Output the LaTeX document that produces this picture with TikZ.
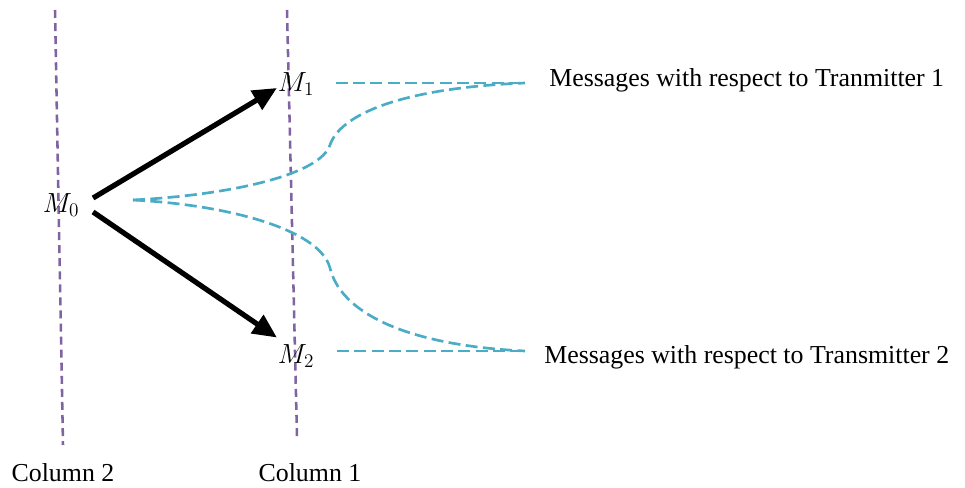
\documentclass[tikz,border=0pt]{standalone}
\usepackage{fontspec}
\setmainfont{Liberation Serif}
\usetikzlibrary{positioning, arrows.meta, calc}

\definecolor{colpurple}{RGB}{128,100,162}
\definecolor{msgcyan}{RGB}{75,172,198}

\begin{document}
\begin{tikzpicture}[
	x=0.75pt, y=-0.75pt,
	every node/.style={font=\fontsize{19.4}{23}\selectfont},
	column/.style={draw=colpurple, line width=1.9pt, dash pattern=on 6pt off 3.8pt},
	msgline/.style={draw=msgcyan, line width=2pt, dash pattern=on 9pt off 4pt},
	bigarrow/.style={line width=3.9pt, -{Triangle[length=18pt,width=16pt]}},
	mlabel/.style={inner sep=2pt},
	msgtext/.style={anchor=west, inner sep=0pt}
	]
	\useasboundingbox (0,0) rectangle (965,488);

	% columns
	\coordinate (c2top) at (55,10);
	\coordinate (c2bot) at (63,445);
	\coordinate (c1top) at (287,10);
	\coordinate (c1bot) at (297,437);
	\draw[column] (c2top) -- (c2bot);
	\draw[column] (c1top) -- (c1bot);
	\node (col2) at (63,473) {Column 2};
	\node (col1) at (310,473) {Column 1};

	\node[mlabel] (m0) at (61,205) {$M_0$};
	\node[mlabel] (m1) at (296,84) {$M_1$};
	\node[mlabel] (m2) at (296,356) {$M_2$};

	\draw[bigarrow] ([shift={(11,-7)}]m0.east) -- ([shift={(2,4)}]m1.west);
	\draw[bigarrow] ([shift={(11,7)}]m0.east) -- ([shift={(2,-4)}]m2.north west);

	\node[msgtext] (msg1) at (549,80) {Messages with respect to Tranmitter 1};
	\node[msgtext] (msg2) at (544,357) {Messages with respect to Transmitter 2};

	\coordinate (fork) at (133,200);
	\coordinate (end1) at (525,83);
	\coordinate (end2) at (525,351);
	\draw[msgline] ([xshift=14]m1.east |- end1) -- (end1);
	\draw[msgline] ([xshift=15]m2.east |- end2) -- (end2);
	\draw[msgline] (fork) .. controls (230,195) and (320,175) .. (330,145)
		.. controls (340,115) and (400,88) .. (end1);
	\draw[msgline] (fork) .. controls (230,205) and (320,230) .. (330,268)
		.. controls (340,310) and (400,345) .. (end2);
\end{tikzpicture}
\end{document}
